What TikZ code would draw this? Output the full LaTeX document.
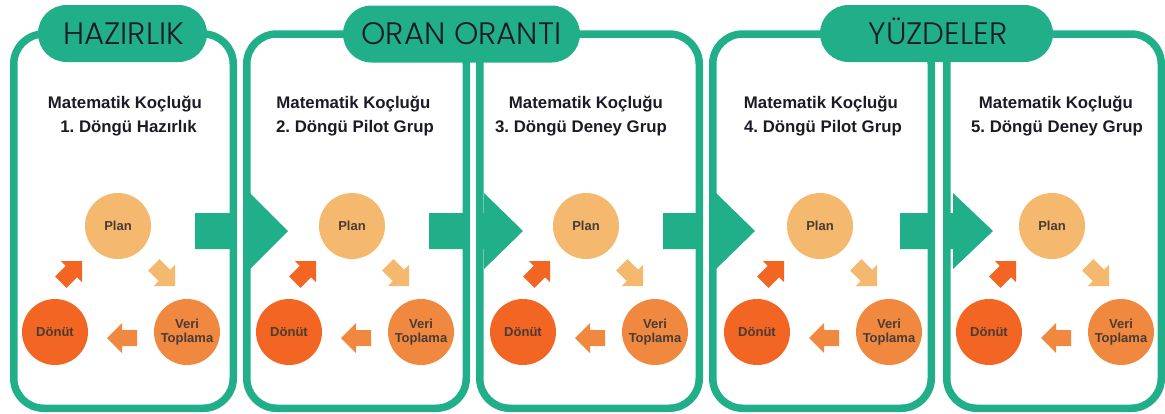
\documentclass[tikz,border=0pt]{standalone}
\usepackage{fontspec}
\setmainfont{Liberation Sans}
\newfontfamily\pillfont{Poppins Light}
\usetikzlibrary{calc}

\definecolor{cteal}{HTML}{21AF8A}
\definecolor{cplan}{HTML}{F4B86E}
\definecolor{cveri}{HTML}{F0883F}
\definecolor{cdonut}{HTML}{F26522}
\definecolor{cink}{HTML}{1B1B26}
\definecolor{ccircleink}{HTML}{4A3B35}

% small block arrow of the cycle: tip at (#1,#2), direction #3, colour #4, scale #5
\newcommand\cyclearrow[5]{%
  \fill[#4, shift={(#1,#2)}, rotate=#3, scale=#5]
    (0,0) -- (-15,-15) -- (-15,-8) -- (-30,-8) -- (-30,8) -- (-15,8) -- (-15,15) -- cycle;
}
% big teal arrow between two panels: shaft start #1, head base #2, tip #3
\newcommand\stagearrow[3]{%
  \fill[cteal] (#1,213) -- (#2,213) -- (#2,193) -- (#3,231) -- (#2,269) -- (#2,249) -- (#1,249) -- cycle;
}

\tikzset{
  panel/.style={draw=cteal, line width=7.5pt, rounded corners=30pt},
  pill/.style={fill=cteal, rounded corners=28.5pt, minimum height=57pt, inner sep=0pt},
  pilltext/.style={anchor=base, text=cink, inner sep=0pt, font=\pillfont\fontsize{31}{31}\selectfont},
  subtitle/.style={anchor=base, text=cink, inner sep=0pt, font=\bfseries\fontsize{16.8}{19}\selectfont},
  stage/.style={circle, minimum size=66pt, inner sep=0pt, text=ccircleink, align=center,
    font=\bfseries\fontsize{13}{14.5}\selectfont},
}

\begin{document}
\frenchspacing
\begin{tikzpicture}[x=1pt, y=-1pt]
\useasboundingbox (0,0) rectangle (1165,413);

% arrows leading from one panel to the next
\stagearrow{195}{250}{288}
\stagearrow{429}{484}{523}
\stagearrow{663}{716}{755}
\stagearrow{900}{953}{993}

% white gaps separating neighbouring panels
\fill[white] (237,188) rectangle (243,274);
\fill[white] (470,188) rectangle (476,274);
\fill[white] (703,188) rectangle (709,274);
\fill[white] (935,188) rectangle (943,274);

% panel frames
\draw[panel] (13.75,34) rectangle (233.25,408.25);
\draw[panel] (246.75,34) rectangle (466.25,408.25);
\draw[panel] (479.75,34) rectangle (699.25,408.25);
\draw[panel] (712.75,34) rectangle (931.25,408.25);
\draw[panel] (946.75,34) rectangle (1161.25,408.25);

% section headings
\node[pill, minimum width=169pt] (pillA) at (122.5,33.5) {};
\node[pill, minimum width=237pt] (pillB) at (461.5,34) {};
\node[pill, minimum width=233pt] (pillC) at (936.5,33.5) {};
\node[pilltext] (headA) at (123.5,44.5) {HAZIRLIK};
\node[pilltext] (headB) at (461.5,44.5) {ORAN ORANTI};
\node[pilltext] (headC) at (938,44.5) {YÜZDELER};

% cycle titles
\node[subtitle] (t1a) at (125,108) {Matematik Koçluğu};
\node[subtitle] (t1b) at (128.5,132) {1. Döngü Hazırlık};
\node[subtitle] (t2a) at (353.5,108) {Matematik Koçluğu};
\node[subtitle] (t2b) at (355,132) {2. Döngü Pilot Grup};
\node[subtitle] (t3a) at (586,108) {Matematik Koçluğu};
\node[subtitle] (t3b) at (581,132) {3. Döngü Deney Grup};
\node[subtitle] (t4a) at (821,108) {Matematik Koçluğu};
\node[subtitle] (t4b) at (823,132) {4. Döngü Pilot Grup};
\node[subtitle] (t5a) at (1056,108) {Matematik Koçluğu};
\node[subtitle] (t5b) at (1057,132) {5. Döngü Deney Grup};

% plan - data collection - feedback cycle in every panel
\foreach \dx [count=\i] in {0,234,468,702,934} {
  \begin{scope}[xshift=\dx pt]
    \node[stage, fill=cplan]  (plan\i)  at (118,226) {Plan};
    \node[stage, fill=cveri]  (veri\i)  at (187,332) {Veri\\Toplama};
    \node[stage, fill=cdonut] (donut\i) at (55,332)  {Dönüt};
    \cyclearrow{175}{286}{-45}{cplan}{1}
    \cyclearrow{107}{338}{180}{cveri}{1}
    \cyclearrow{82}{261}{45}{cdonut}{1}
  \end{scope}
}
\end{tikzpicture}
\end{document}
